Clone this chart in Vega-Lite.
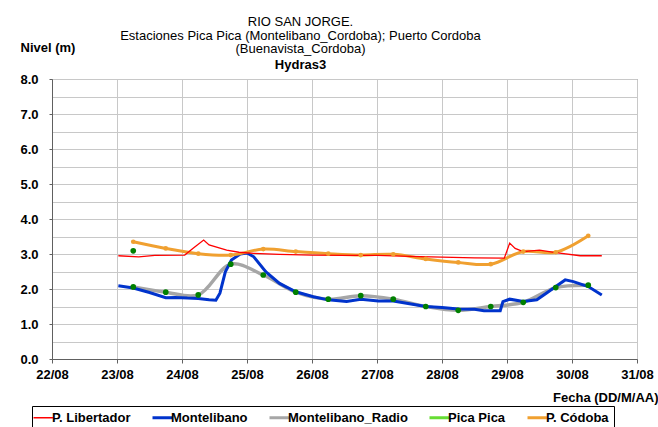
{
  "$schema": "https://vega.github.io/schema/vega-lite/v6.json",
  "autosize": {"type": "none"},
  "padding": {"left": 52, "top": 79, "right": 21, "bottom": 68},
  "width": 585,
  "height": 280,
  "background": "white",
  "config": {
    "font": "Liberation Sans",
    "view": {"stroke": "#808080", "strokeWidth": 1}
  },
  "title": {
    "text": ["RIO SAN JORGE.", "Estaciones Pica Pica (Montelibano_Cordoba); Puerto Cordoba", "(Buenavista_Cordoba)"],
    "subtitle": "Hydras3",
    "font": "Liberation Sans",
    "fontSize": 13,
    "fontWeight": "normal",
    "lineHeight": 13.5,
    "subtitleFont": "Liberation Sans",
    "subtitleFontSize": 13,
    "subtitleFontWeight": "bold",
    "subtitleColor": "black",
    "subtitlePadding": 3,
    "color": "black",
    "anchor": "middle",
    "dx": -44,
    "dy": 37,
    "offset": 6
  },
  "data": {
    "values": [
      {"s": "P. Libertador", "t": "2023-08-23T00:30", "v": 2.95},
      {"s": "P. Libertador", "t": "2023-08-23T08:00", "v": 2.92},
      {"s": "P. Libertador", "t": "2023-08-23T14:00", "v": 2.96},
      {"s": "P. Libertador", "t": "2023-08-24T01:00", "v": 2.97},
      {"s": "P. Libertador", "t": "2023-08-24T04:00", "v": 3.16},
      {"s": "P. Libertador", "t": "2023-08-24T08:00", "v": 3.40},
      {"s": "P. Libertador", "t": "2023-08-24T10:00", "v": 3.26},
      {"s": "P. Libertador", "t": "2023-08-24T16:30", "v": 3.11},
      {"s": "P. Libertador", "t": "2023-08-24T21:00", "v": 3.05},
      {"s": "P. Libertador", "t": "2023-08-25T02:30", "v": 3.02},
      {"s": "P. Libertador", "t": "2023-08-25T12:00", "v": 2.99},
      {"s": "P. Libertador", "t": "2023-08-26T00:00", "v": 2.97},
      {"s": "P. Libertador", "t": "2023-08-26T12:00", "v": 2.96},
      {"s": "P. Libertador", "t": "2023-08-27T00:00", "v": 2.96},
      {"s": "P. Libertador", "t": "2023-08-27T12:00", "v": 2.93},
      {"s": "P. Libertador", "t": "2023-08-28T00:00", "v": 2.91},
      {"s": "P. Libertador", "t": "2023-08-28T12:00", "v": 2.89},
      {"s": "P. Libertador", "t": "2023-08-28T23:00", "v": 2.88},
      {"s": "P. Libertador", "t": "2023-08-29T01:00", "v": 3.31},
      {"s": "P. Libertador", "t": "2023-08-29T03:00", "v": 3.16},
      {"s": "P. Libertador", "t": "2023-08-29T06:00", "v": 3.07},
      {"s": "P. Libertador", "t": "2023-08-29T12:00", "v": 3.11},
      {"s": "P. Libertador", "t": "2023-08-29T18:00", "v": 3.04},
      {"s": "P. Libertador", "t": "2023-08-30T03:00", "v": 2.95},
      {"s": "P. Libertador", "t": "2023-08-30T11:00", "v": 2.95},
      {"s": "Montelibano", "t": "2023-08-23T00:30", "v": 2.09},
      {"s": "Montelibano", "t": "2023-08-23T06:00", "v": 2.03},
      {"s": "Montelibano", "t": "2023-08-23T12:00", "v": 1.90},
      {"s": "Montelibano", "t": "2023-08-23T18:00", "v": 1.75},
      {"s": "Montelibano", "t": "2023-08-23T21:30", "v": 1.76},
      {"s": "Montelibano", "t": "2023-08-24T02:00", "v": 1.74},
      {"s": "Montelibano", "t": "2023-08-24T06:00", "v": 1.73},
      {"s": "Montelibano", "t": "2023-08-24T10:00", "v": 1.69},
      {"s": "Montelibano", "t": "2023-08-24T12:30", "v": 1.68},
      {"s": "Montelibano", "t": "2023-08-24T14:00", "v": 1.88},
      {"s": "Montelibano", "t": "2023-08-24T16:00", "v": 2.49},
      {"s": "Montelibano", "t": "2023-08-24T18:15", "v": 2.83},
      {"s": "Montelibano", "t": "2023-08-24T21:30", "v": 3.00},
      {"s": "Montelibano", "t": "2023-08-25T00:00", "v": 3.03},
      {"s": "Montelibano", "t": "2023-08-25T02:30", "v": 2.92},
      {"s": "Montelibano", "t": "2023-08-25T07:00", "v": 2.49},
      {"s": "Montelibano", "t": "2023-08-25T12:00", "v": 2.16},
      {"s": "Montelibano", "t": "2023-08-25T18:00", "v": 1.92},
      {"s": "Montelibano", "t": "2023-08-26T00:30", "v": 1.78},
      {"s": "Montelibano", "t": "2023-08-26T06:00", "v": 1.69},
      {"s": "Montelibano", "t": "2023-08-26T12:45", "v": 1.64},
      {"s": "Montelibano", "t": "2023-08-26T18:00", "v": 1.71},
      {"s": "Montelibano", "t": "2023-08-27T00:30", "v": 1.66},
      {"s": "Montelibano", "t": "2023-08-27T06:00", "v": 1.66},
      {"s": "Montelibano", "t": "2023-08-27T12:00", "v": 1.58},
      {"s": "Montelibano", "t": "2023-08-27T18:00", "v": 1.50},
      {"s": "Montelibano", "t": "2023-08-28T00:00", "v": 1.47},
      {"s": "Montelibano", "t": "2023-08-28T06:00", "v": 1.43},
      {"s": "Montelibano", "t": "2023-08-28T12:00", "v": 1.42},
      {"s": "Montelibano", "t": "2023-08-28T15:30", "v": 1.38},
      {"s": "Montelibano", "t": "2023-08-28T21:30", "v": 1.38},
      {"s": "Montelibano", "t": "2023-08-28T22:30", "v": 1.64},
      {"s": "Montelibano", "t": "2023-08-29T01:00", "v": 1.71},
      {"s": "Montelibano", "t": "2023-08-29T06:00", "v": 1.64},
      {"s": "Montelibano", "t": "2023-08-29T11:00", "v": 1.69},
      {"s": "Montelibano", "t": "2023-08-29T14:30", "v": 1.88},
      {"s": "Montelibano", "t": "2023-08-29T18:00", "v": 2.07},
      {"s": "Montelibano", "t": "2023-08-29T21:30", "v": 2.26},
      {"s": "Montelibano", "t": "2023-08-30T00:30", "v": 2.21},
      {"s": "Montelibano", "t": "2023-08-30T06:00", "v": 2.07},
      {"s": "Montelibano", "t": "2023-08-30T11:00", "v": 1.83},
      {"s": "Montelibano_Radio", "t": "2023-08-23T06:00", "v": 2.06},
      {"s": "Montelibano_Radio", "t": "2023-08-23T18:00", "v": 1.91},
      {"s": "Montelibano_Radio", "t": "2023-08-24T06:00", "v": 1.83},
      {"s": "Montelibano_Radio", "t": "2023-08-24T18:00", "v": 2.71},
      {"s": "Montelibano_Radio", "t": "2023-08-25T06:00", "v": 2.40},
      {"s": "Montelibano_Radio", "t": "2023-08-25T18:00", "v": 1.91},
      {"s": "Montelibano_Radio", "t": "2023-08-26T06:00", "v": 1.71},
      {"s": "Montelibano_Radio", "t": "2023-08-26T18:00", "v": 1.81},
      {"s": "Montelibano_Radio", "t": "2023-08-27T06:00", "v": 1.71},
      {"s": "Montelibano_Radio", "t": "2023-08-27T18:00", "v": 1.50},
      {"s": "Montelibano_Radio", "t": "2023-08-28T06:00", "v": 1.39},
      {"s": "Montelibano_Radio", "t": "2023-08-28T18:00", "v": 1.50},
      {"s": "Montelibano_Radio", "t": "2023-08-29T06:00", "v": 1.62},
      {"s": "Montelibano_Radio", "t": "2023-08-29T18:00", "v": 2.04},
      {"s": "Montelibano_Radio", "t": "2023-08-30T06:00", "v": 2.11},
      {"s": "Pica Pica", "t": "2023-08-23T06:00", "v": 3.09},
      {"s": "P. Códoba", "t": "2023-08-23T06:00", "v": 3.35},
      {"s": "P. Códoba", "t": "2023-08-23T18:00", "v": 3.16},
      {"s": "P. Códoba", "t": "2023-08-24T06:00", "v": 3.01},
      {"s": "P. Códoba", "t": "2023-08-24T18:00", "v": 2.97},
      {"s": "P. Códoba", "t": "2023-08-25T06:00", "v": 3.14},
      {"s": "P. Códoba", "t": "2023-08-25T18:00", "v": 3.07},
      {"s": "P. Códoba", "t": "2023-08-26T06:00", "v": 3.01},
      {"s": "P. Códoba", "t": "2023-08-26T18:00", "v": 2.97},
      {"s": "P. Códoba", "t": "2023-08-27T06:00", "v": 2.99},
      {"s": "P. Códoba", "t": "2023-08-27T18:00", "v": 2.86},
      {"s": "P. Códoba", "t": "2023-08-28T06:00", "v": 2.76},
      {"s": "P. Códoba", "t": "2023-08-28T18:00", "v": 2.71},
      {"s": "P. Códoba", "t": "2023-08-29T06:00", "v": 3.07},
      {"s": "P. Códoba", "t": "2023-08-29T18:00", "v": 3.05},
      {"s": "P. Códoba", "t": "2023-08-30T06:00", "v": 3.52}
    ]
  },
  "encoding": {
    "x": {
      "field": "t",
      "type": "temporal",
      "scale": {"domain": [{"year": 2023, "month": 8, "date": 22}, {"year": 2023, "month": 8, "date": 31}]},
      "axis": {
        "values": [
          {"year": 2023, "month": 8, "date": 22}, {"year": 2023, "month": 8, "date": 23},
          {"year": 2023, "month": 8, "date": 24}, {"year": 2023, "month": 8, "date": 25},
          {"year": 2023, "month": 8, "date": 26}, {"year": 2023, "month": 8, "date": 27},
          {"year": 2023, "month": 8, "date": 28}, {"year": 2023, "month": 8, "date": 29},
          {"year": 2023, "month": 8, "date": 30}, {"year": 2023, "month": 8, "date": 31}
        ],
        "format": "%d/%m",
        "title": "Fecha (DD/M/AA)",
        "titleFontSize": 13,
        "titleFontWeight": "bold",
        "titleColor": "black",
        "titleAnchor": null,
        "titleX": 606,
        "titleY": 38,
        "titleAlign": "right",
        "titleBaseline": "middle",
        "labelFontSize": 13,
        "labelFontWeight": "bold",
        "labelColor": "black",
        "labelPadding": 5,
        "labelFlush": false,
        "labelOverlap": false,
        "tickSize": 4,
        "tickColor": "#606060",
        "domainColor": "#606060",
        "gridColor": "#C8C8C8",
        "grid": true
      }
    },
    "y": {
      "field": "v",
      "type": "quantitative",
      "scale": {"domain": [0, 8], "nice": false},
      "axis": {
        "values": [0, 0.5, 1, 1.5, 2, 2.5, 3, 3.5, 4, 4.5, 5, 5.5, 6, 6.5, 7, 7.5, 8],
        "labelExpr": "datum.value % 1 === 0 ? format(datum.value, '.1f') : ''",
        "tickOpacity": {"condition": {"test": "datum.value % 1 === 0", "value": 1}, "value": 0},
        "title": "Nivel (m)",
        "titleAngle": 0,
        "titleX": -32,
        "titleY": -32,
        "titleAlign": "left",
        "titleBaseline": "middle",
        "titleFontSize": 13,
        "titleFontWeight": "bold",
        "titleColor": "black",
        "labelFontSize": 13,
        "labelFontWeight": "bold",
        "labelColor": "black",
        "labelPadding": 11,
        "labelFlush": false,
        "tickSize": 3,
        "tickColor": "#606060",
        "domainColor": "#606060",
        "gridColor": "#C8C8C8",
        "grid": true
      }
    }
  },
  "layer": [
    {
      "transform": [{"filter": "datum.s === 'Montelibano_Radio' || datum.s === 'Pica Pica'"}],
      "mark": {"type": "line", "interpolate": "catmull-rom", "strokeWidth": 3.5},
      "encoding": {
        "color": {
          "field": "s",
          "type": "nominal",
          "scale": {
            "domain": ["P. Libertador", "Montelibano", "Montelibano_Radio", "Pica Pica", "P. Códoba"],
            "range": ["#FF0000", "#0033CC", "#A6A6A6", "#66DD33", "#F0A030"]
          },
          "legend": {
            "title": null,
            "orient": "none",
            "direction": "horizontal",
            "legendX": -20,
            "legendY": 327,
            "columns": 5,
            "padding": 5,
            "strokeColor": "black",
            "fillColor": "white",
            "symbolType": "stroke",
            "symbolSize": 400,
            "symbolStrokeWidth": 3,
            "labelFontSize": 13,
            "labelFontWeight": "bold",
            "labelColor": "black",
            "labelOffset": 2,
            "columnPadding": 15,
            "encode": {"symbols": {"update": {"strokeWidth": {"signal": "datum.value === 'P. Libertador' ? 1.5 : 3"}}}}
          }
        }
      }
    },
    {
      "transform": [{"filter": "datum.s === 'Montelibano'"}],
      "mark": {"type": "line", "strokeWidth": 3},
      "encoding": {"color": {"field": "s", "type": "nominal"}}
    },
    {
      "transform": [{"filter": "datum.s === 'P. Códoba'"}],
      "mark": {"type": "line", "interpolate": "catmull-rom", "strokeWidth": 3},
      "encoding": {"color": {"field": "s", "type": "nominal"}}
    },
    {
      "transform": [{"filter": "datum.s === 'P. Libertador'"}],
      "mark": {"type": "line", "strokeWidth": 1.3},
      "encoding": {"color": {"field": "s", "type": "nominal"}}
    },
    {
      "transform": [{"filter": "datum.s === 'Montelibano_Radio' || datum.s === 'Pica Pica' || datum.s === 'P. Códoba'"}],
      "mark": {"type": "point", "filled": true, "opacity": 1},
      "encoding": {
        "color": {"condition": {"test": "datum.s === 'P. Códoba'", "value": "#F0A030"}, "value": "#008000"},
        "size": {"condition": {"test": "datum.s === 'P. Códoba'", "value": 22}, "value": 32}
      }
    }
  ]
}
